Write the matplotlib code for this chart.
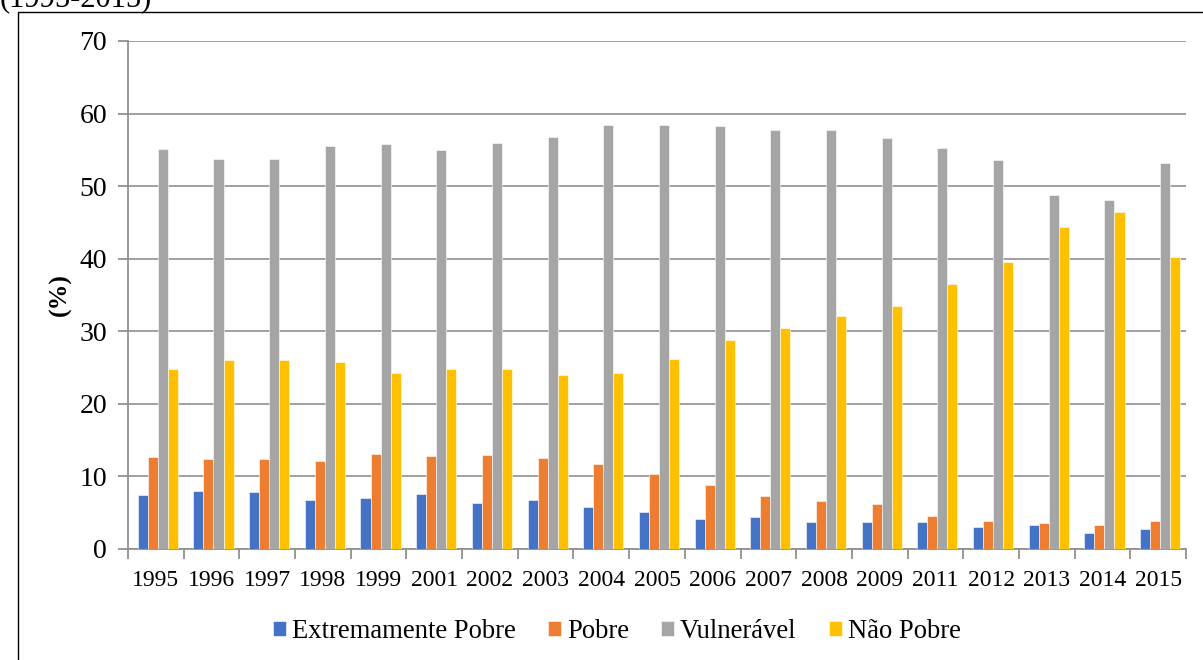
import numpy as np
import matplotlib.pyplot as plt
from matplotlib.patches import Rectangle

plt.rcParams['font.family'] = ['Liberation Serif', 'DejaVu Serif']

# Distribuição da população por classe de renda (%)
anos = ['1995', '1996', '1997', '1998', '1999', '2001', '2002', '2003', '2004', '2005',
        '2006', '2007', '2008', '2009', '2011', '2012', '2013', '2014', '2015']
extremamente_pobre = [7.5, 8.0, 7.9, 6.8, 7.0, 7.6, 6.3, 6.8, 5.8, 5.1,
                      4.2, 4.4, 3.7, 3.7, 3.7, 3.0, 3.35, 2.2, 2.7]
pobre = [12.7, 12.4, 12.4, 12.1, 13.1, 12.8, 12.9, 12.6, 11.7, 10.4,
         8.8, 7.3, 6.6, 6.15, 4.6, 3.85, 3.6, 3.35, 3.85]
vulneravel = [55.1, 53.7, 53.7, 55.5, 55.8, 55.0, 56.0, 56.8, 58.4, 58.4,
              58.3, 57.8, 57.7, 56.7, 55.3, 53.6, 48.8, 48.1, 53.2]
nao_pobre = [24.8, 26.1, 26.1, 25.8, 24.3, 24.8, 24.8, 24.0, 24.3, 26.2,
             28.8, 30.5, 32.1, 33.5, 36.5, 39.6, 44.3, 46.5, 40.3]

series = [
    ('Extremamente Pobre', extremamente_pobre, '#4472C4'),
    ('Pobre', pobre, '#ED7D31'),
    ('Vulnerável', vulneravel, '#A5A5A5'),
    ('Não Pobre', nao_pobre, '#FFC000'),
]

fig = plt.figure(figsize=(12.03, 6.6), dpi=100)
ax = fig.add_axes([0.1064, 0.1682, 0.8795, 0.7697])

x = np.arange(len(anos))
w = 0.18
for i, (nome, vals, cor) in enumerate(series):
    ax.bar(x + (i - 1.5) * w + 0.035, vals, w, color=cor, label=nome,
           edgecolor='white', linewidth=0.4, zorder=3)

ax.set_xlim(-0.5, len(anos) - 0.5)
ax.set_ylim(0, 70)
ax.set_yticks(range(0, 71, 10))
ax.yaxis.grid(True, color='#a0a0a0', linewidth=1.4, zorder=0)

# rótulos no centro, marcas entre os grupos
ax.set_xticks(x)
ax.set_xticklabels(anos, fontsize=17)
ax.set_xticks(np.arange(-0.5, len(anos), 1), minor=True)
ax.tick_params(axis='x', which='major', length=0, pad=15)
ax.tick_params(axis='x', which='minor', length=7, width=1.3, color='#909090')
ax.tick_params(axis='y', length=7, width=1.3, color='#909090', labelsize=20, pad=8)

for lado in ['top', 'right']:
    ax.spines[lado].set_visible(False)
for lado in ['left', 'bottom']:
    ax.spines[lado].set_color('#909090')
    ax.spines[lado].set_linewidth(1.3)

fig.text(0.05, 0.553, '(%)', rotation=90, fontsize=18.5, fontweight='bold',
         ha='center', va='center')

ax.legend(loc='center', bbox_to_anchor=(0.462, -0.162), ncol=4, frameon=False,
          fontsize=19.2, handlelength=0.5, handleheight=0.5, handletextpad=0.22,
          columnspacing=1.2)

# moldura e título cortado no topo
fig.add_artist(Rectangle((18 / 1203, -0.05), 1.1, 1 - 12 / 660 + 0.05,
                         transform=fig.transFigure, fill=False,
                         edgecolor='black', linewidth=1.0))
fig.text(0.0, 1 - 6 / 660, '(1995-2015)', fontsize=22, ha='left', va='baseline')

plt.savefig('out.png', dpi=100)
